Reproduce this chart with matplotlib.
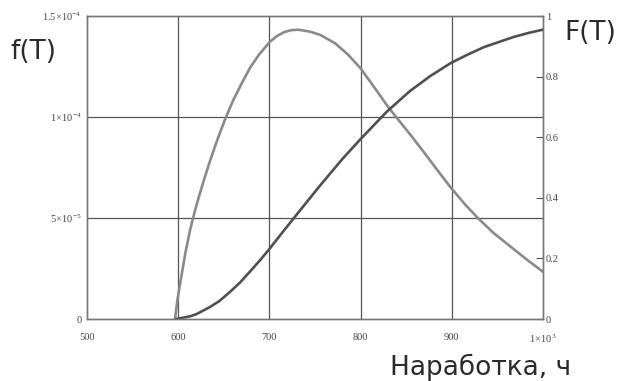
import numpy as np
import matplotlib.pyplot as plt

plt.rcParams['mathtext.fontset'] = 'custom'
plt.rcParams['mathtext.rm'] = 'Liberation Serif'
plt.rcParams['mathtext.it'] = 'Liberation Serif'

# density f(T), values (x1e-5)
t_f = [596.5, 599, 603, 608, 613, 618, 623, 628, 634, 640, 646, 652, 660, 670,
       679, 688, 700, 708, 716, 724, 732, 745, 756, 772, 786, 800, 815, 830,
       840, 855, 869, 884, 899, 914, 929, 946, 964, 982, 1000]
f_vals = [0, 0.9, 2.0, 3.3, 4.4, 5.3, 6.1, 6.85, 7.7, 8.5, 9.25, 9.95, 10.8,
          11.7, 12.45, 13.05, 13.7, 14.0, 14.2, 14.3, 14.32, 14.22, 14.06,
          13.65, 13.1, 12.41, 11.47, 10.51, 9.94, 9.1, 8.28, 7.38, 6.5, 5.7,
          4.98, 4.25, 3.6, 2.95, 2.34]

# distribution F(T)
t_F = [598, 613, 620, 635, 645, 657, 668, 680, 690, 700, 713, 726, 745, 756,
       780, 800, 829, 854, 876, 899, 917, 935, 968, 984, 1000]
F_vals = [0, 0.009, 0.016, 0.04, 0.059, 0.09, 0.121, 0.161, 0.195, 0.231,
          0.281, 0.330, 0.401, 0.442, 0.528, 0.594, 0.685, 0.752, 0.801,
          0.845, 0.872, 0.897, 0.931, 0.944, 0.955]

x_ticks = [500, 600, 700, 800, 900, 1000]
x_labels = ['500', '600', '700', '800', '900', r'$1\!\times\!10^{3}$']
left_ticks = [0, 5e-5, 1e-4, 1.5e-4]
left_labels = ['0', r'$5\!\times\!10^{-5}$', r'$1\!\times\!10^{-4}$', r'$1.5\!\times\!10^{-4}$']
right_ticks = [0, 0.2, 0.4, 0.6, 0.8, 1.0]
right_labels = ['0', '0.2', '0.4', '0.6', '0.8', '1']

fig = plt.figure(figsize=(6.18, 3.81), dpi=100)
ax = fig.add_axes([0.1408, 0.1627, 0.7378, 0.7953])

ax.plot(t_f, np.array(f_vals) * 1e-5, color='#8a8a8a', lw=1.9,
        solid_capstyle='round', solid_joinstyle='round')
ax.set_xlim(500, 1000)
ax.set_ylim(0, 1.5e-4)

for v in [600, 700, 800, 900]:
    ax.axvline(v, color='#555555', lw=0.9, zorder=0)
for v in [5e-5, 1e-4]:
    ax.axhline(v, color='#555555', lw=0.9, zorder=0)

ax.set_xticks(x_ticks)
ax.set_xticklabels(x_labels)
ax.set_yticks(left_ticks)
ax.set_yticklabels(left_labels)
ax.tick_params(axis='both', length=0, labelsize=7.5, colors='#444444', pad=4)
ax.tick_params(axis='x', pad=10)
for lab in ax.get_xticklabels() + ax.get_yticklabels():
    lab.set_family('Liberation Serif')

ax2 = ax.twinx()
ax2.plot(t_F, F_vals, color='#505050', lw=1.9,
         solid_capstyle='round', solid_joinstyle='round')
ax2.set_ylim(0, 1)
ax2.set_yticks(right_ticks)
ax2.set_yticklabels(right_labels)
ax2.tick_params(axis='y', direction='in', length=5, width=0.8, color='#555555',
                labelsize=7.5, labelcolor='#444444', pad=2)
for lab in ax2.get_yticklabels():
    lab.set_family('Liberation Serif')

for a in (ax, ax2):
    for s in a.spines.values():
        s.set_color('#777777')
        s.set_linewidth(1.0)

fig.text(0.016, 0.846, 'f(T)', fontsize=19, family='DejaVu Sans', color='#2a2a2a')
fig.text(0.914, 0.895, 'F(T)', fontsize=19, family='DejaVu Sans', color='#2a2a2a')
fig.text(0.631, 0.016, 'Наработка, ч', fontsize=19, family='DejaVu Sans', color='#2a2a2a')

fig.savefig('out.png', dpi=100)
